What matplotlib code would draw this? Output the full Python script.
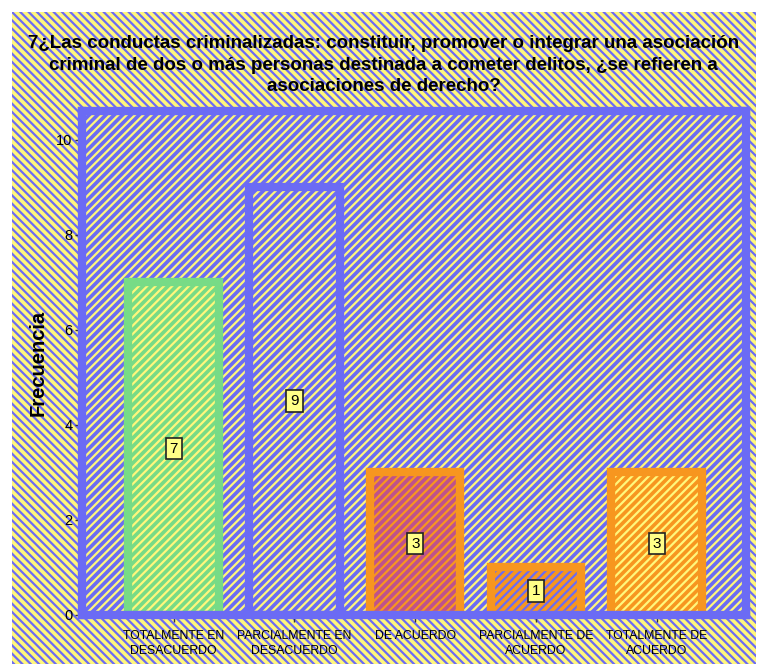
import matplotlib.pyplot as plt
from matplotlib.patches import Rectangle

# datos
categorias = ["TOTALMENTE EN\nDESACUERDO", "PARCIALMENTE EN\nDESACUERDO", "DE ACUERDO",
              "PARCIALMENTE DE\nACUERDO", "TOTALMENTE DE\nACUERDO"]
frecuencias = [7, 9, 3, 1, 3]
titulo = ("7¿Las conductas criminalizadas: constituir, promover o integrar una asociación\n"
          "criminal de dos o más personas destinada a cometer delitos, ¿se refieren a\n"
          "asociaciones de derecho?")

amarillo = "#FFF77C"
azul = "#6B6BF4"
verde = "#77DB86"
naranja = "#F7961F"
morado = "#BE528C"

relleno = [verde, azul, morado, naranja, naranja]
rayas = [amarillo, amarillo, naranja, azul, amarillo]
borde = [verde, azul, naranja, naranja, naranja]

plt.rcParams["hatch.linewidth"] = 1.6
fuente = ["Liberation Sans", "DejaVu Sans"]

fig = plt.figure(figsize=(7.6, 6.64), dpi=100)
fig.patch.set_facecolor("white")

# fondo rayado de la figura
fondo = Rectangle((12 / 760, 0), (756 - 12) / 760, (664 - 12) / 664,
                  transform=fig.transFigure, facecolor=amarillo, edgecolor=azul,
                  hatch="\\" * 4, linewidth=0, zorder=-10)
fig.add_artist(fondo)

fig.text(0.505, 1 - 35 / 664, titulo, ha="center", va="top", fontsize=13.5,
         fontweight="bold", family=fuente, linespacing=1.36)

ax = fig.add_axes([82 / 760, 49 / 664, (746 - 82) / 760, (615 - 111) / 664])
ax.patch.set_facecolor(azul)
ax.patch.set_edgecolor(amarillo)
ax.patch.set_hatch("////")

x = list(range(len(categorias)))
ax.bar(x, frecuencias, width=0.75, color=relleno, edgecolor=rayas, hatch="////",
       linewidth=0, zorder=2)
ax.bar(x, frecuencias, width=0.75, fill=False, edgecolor=borde, linewidth=6, zorder=3)

for xi, v in zip(x, frecuencias):
    ax.text(xi, v / 2, str(v), ha="center", va="center", fontsize=11, family=fuente,
            zorder=5,
            bbox=dict(boxstyle="square,pad=0.25", facecolor="#FFFF88", edgecolor="#222222",
                      linewidth=1.2))

for s in ax.spines.values():
    s.set_color(azul)
    s.set_linewidth(6)
    s.set_zorder(4)

ax.set_xlim(-0.76, 4.74)
ax.set_ylim(0, 10.6)
ax.set_yticks([0, 2, 4, 6, 8, 10])
ax.set_xticks(x)
ax.set_xticklabels(categorias, fontsize=8.8, family=fuente, linespacing=1.3)
for t in ax.get_yticklabels():
    t.set_fontsize(10.5)
    t.set_family(fuente)
ax.tick_params(axis="both", length=5, width=1, color="#333333", pad=2)
ax.tick_params(axis="x", pad=6)
ax.set_ylabel("Frecuencia", fontsize=14.5, fontweight="bold", family=fuente, labelpad=6)

fig.savefig("out.png", dpi=100)
